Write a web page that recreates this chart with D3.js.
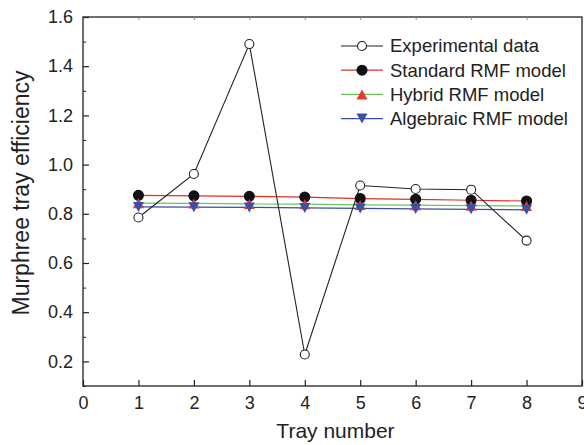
<!DOCTYPE html>
<html>
<head>
<meta charset="utf-8">
<script src="https://cdn.jsdelivr.net/npm/d3@7"></script>
<style>
  html, body { margin: 0; padding: 0; background: #fff; overflow: hidden; }
  svg { display: block; }
  text { font-family: "Liberation Sans", Arial, Helvetica, sans-serif; fill: #222; }
</style>
</head>
<body>
<div id="app"></div>
<script>
const trays = [1, 2, 3, 4, 5, 6, 7, 8];
const experimental = [0.785, 0.962, 1.49, 0.228, 0.915, 0.901, 0.898, 0.691];
const standardRMF = [0.875, 0.873, 0.871, 0.868, 0.862, 0.859, 0.855, 0.852];
const hybridRMF = [0.843, 0.842, 0.840, 0.839, 0.836, 0.835, 0.833, 0.832];
const algebraicRMF = [0.828, 0.827, 0.826, 0.824, 0.822, 0.820, 0.818, 0.816];
const xTicks = [0, 1, 2, 3, 4, 5, 6, 7, 8, 9];
const yTicks = [0.2, 0.4, 0.6, 0.8, 1.0, 1.2, 1.4, 1.6];
const yMinor = [0.1, 0.3, 0.5, 0.7, 0.9, 1.1, 1.3, 1.5];

const series = [
  { name: 'Experimental data', values: experimental, line: '#222', marker: 'circle', fill: '#fff', stroke: '#222' },
  { name: 'Standard RMF model', values: standardRMF, line: '#e0302a', marker: 'circle', fill: '#111', stroke: '#111' },
  { name: 'Hybrid RMF model', values: hybridRMF, line: '#66c85a', marker: 'triangleUp', fill: '#e23a2c', stroke: 'none' },
  { name: 'Algebraic RMF model', values: algebraicRMF, line: '#3a4ea3', marker: 'triangleDown', fill: '#3a4fa8', stroke: 'none' }
];

const width = 584, height = 445;
const margin = { left: 83, right: 2, top: 17, bottom: 59 };
const innerWidth = width - margin.left - margin.right;
const innerHeight = height - margin.top - margin.bottom;

const svg = d3.select('#app').append('svg').attr('width', width).attr('height', height);
const g = svg.append('g').attr('transform', `translate(${margin.left}, ${margin.top})`);

const x = d3.scaleLinear([0, 9], [0, innerWidth]);
const y = d3.scaleLinear([0.1, 1.6], [innerHeight, 0]);

// frame
g.append('rect')
  .attr('width', innerWidth).attr('height', innerHeight)
  .attr('fill', 'none').attr('stroke', '#222').attr('stroke-width', 1.3);

// bottom axis, ticks inside
const xAxis = g.append('g').attr('transform', `translate(0, ${innerHeight})`)
  .call(d3.axisBottom(x).tickValues(xTicks).tickSizeInner(-6).tickSizeOuter(0).tickPadding(10).tickFormat(d3.format('d')));
xAxis.select('.domain').remove();
xAxis.selectAll('line').attr('stroke', '#222').attr('stroke-width', 1.2);
xAxis.selectAll('text').style('font-size', '18px').attr('fill', '#222').style('font-family', '"Liberation Sans", Arial, sans-serif');

// top ticks
g.append('g')
  .call(d3.axisTop(x).tickValues(trays).tickSizeInner(-3).tickSizeOuter(0).tickFormat(''))
  .call(a => a.select('.domain').remove())
  .selectAll('line').attr('stroke', '#888');

// left axis
const yAxis = g.append('g')
  .call(d3.axisLeft(y).tickValues(yTicks).tickSizeInner(-6).tickSizeOuter(0).tickPadding(10).tickFormat(d3.format('.1f')));
yAxis.select('.domain').remove();
yAxis.selectAll('line').attr('stroke', '#222').attr('stroke-width', 1.2);
yAxis.selectAll('text').style('font-size', '18px').attr('fill', '#222').style('font-family', '"Liberation Sans", Arial, sans-serif');

g.append('g')
  .call(d3.axisLeft(y).tickValues(yMinor).tickSizeInner(-3).tickSizeOuter(0).tickFormat(''))
  .call(a => a.select('.domain').remove())
  .selectAll('line').attr('stroke', '#222');

// axis titles
svg.append('text')
  .attr('x', margin.left + x(4.5) + 3).attr('y', 438)
  .attr('text-anchor', 'middle').style('font-size', '21px')
  .text('Tray number');
svg.append('text')
  .attr('transform', `translate(29, 193) rotate(-90)`)
  .attr('text-anchor', 'middle').style('font-size', '23px')
  .text('Murphree tray efficiency');

const line = d3.line().x((d, i) => x(trays[i])).y(d => y(d));

function drawMarker(sel, s, cx, cy) {
  if (s.marker === 'circle') {
    sel.append('circle').attr('cx', cx).attr('cy', cy)
      .attr('r', s.fill === '#fff' ? 4.5 : 5)
      .attr('fill', s.fill).attr('stroke', s.stroke).attr('stroke-width', 1.1);
  } else {
    const h = 10, w = 11;
    const pts = s.marker === 'triangleUp'
      ? [[cx - w / 2, cy + h / 2], [cx + w / 2, cy + h / 2], [cx, cy - h / 2]]
      : [[cx - w / 2, cy - h / 2], [cx + w / 2, cy - h / 2], [cx, cy + h / 2]];
    sel.append('path').attr('d', 'M' + pts.join('L') + 'Z').attr('fill', s.fill);
  }
}

// lines first
series.slice().reverse().forEach(s => {
  g.append('path').datum(s.values)
    .attr('d', line).attr('fill', 'none')
    .attr('stroke', s.line).attr('stroke-width', s.fill === '#fff' ? 1.1 : 1.2);
});

series.slice(1).forEach(s => {
  const mg = g.append('g');
  s.values.forEach((v, i) => drawMarker(mg, s, x(trays[i]), y(v)));
});
// experimental on top
{
  const s = series[0];
  const mg = g.append('g');
  s.values.forEach((v, i) => drawMarker(mg, s, x(trays[i]), y(v)));
}

// legend
const legend = svg.append('g').attr('transform', 'translate(341, 46)');
series.forEach((s, i) => {
  const row = legend.append('g').attr('transform', `translate(0, ${i * 24.2})`);
  row.append('line').attr('x1', 0).attr('x2', 42).attr('y1', 0).attr('y2', 0)
    .attr('stroke', s.line).attr('stroke-width', 1.2);
  drawMarker(row, s, 21, 0);
  row.append('text').attr('x', 49).attr('y', 0).attr('dy', '0.35em')
    .style('font-size', '18.5px').text(s.name);
});
</script>
</body>
</html>
